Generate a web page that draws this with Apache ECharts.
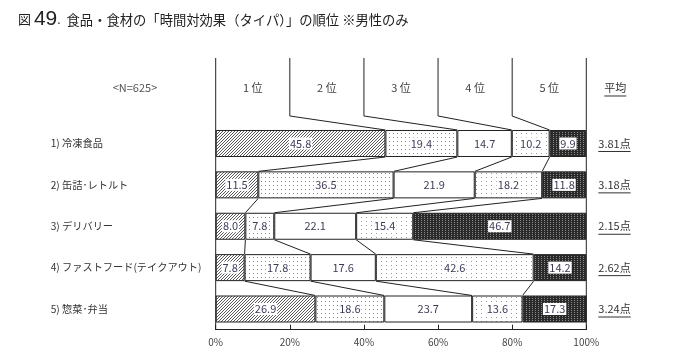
<!DOCTYPE html>
<html><head><meta charset="utf-8">
<script src="https://cdn.jsdelivr.net/npm/echarts@6/dist/echarts.min.js"></script>
<style>html,body{margin:0;padding:0;background:#fff}#c{width:700px;height:356px}</style>
</head><body><div id="c"></div>
<script>
const categories = ['1) 冷凍食品','2) 缶詰･レトルト','3) デリバリー','4) ファストフード(テイクアウト)','5) 惣菜･弁当'];
const rankNames = ['1 位','2 位','3 位','4 位','5 位'];
const rank1 = [45.8, 11.5, 8.0, 7.8, 26.9];
const rank2 = [19.4, 36.5, 7.8, 17.8, 18.6];
const rank3 = [14.7, 21.9, 22.1, 17.6, 23.7];
const rank4 = [10.2, 18.2, 15.4, 42.6, 13.6];
const rank5 = [9.9, 11.8, 46.7, 14.2, 17.3];
const averages = ['3.81点','3.18点','2.15点','2.62点','3.24点'];
const avgHeader = '平均';
const sampleLabel = '<N=625>';
const xTicks = [0, 20, 40, 60, 80, 100];

const ranks = [rank1, rank2, rank3, rank4, rank5];
const FONT = '"Noto Sans CJK JP", "Noto Sans", sans-serif';

function pattern(kind) {
  const c = document.createElement('canvas');
  const ctx = c.getContext('2d');
  if (kind === 'hatch') {
    c.width = 3; c.height = 3;
    ctx.fillStyle = '#fff'; ctx.fillRect(0,0,3,3);
    ctx.fillStyle = '#5a5a5a';
    ctx.fillRect(0,2,1,1); ctx.fillRect(1,1,1,1); ctx.fillRect(2,0,1,1);
  } else if (kind === 'dots') {
    c.width = 4; c.height = 4;
    ctx.fillStyle = '#fff'; ctx.fillRect(0,0,4,4);
    ctx.fillStyle = '#888'; ctx.fillRect(1,1,1,1);
  } else if (kind === 'dots2') {
    c.width = 5; c.height = 4;
    ctx.fillStyle = '#fff'; ctx.fillRect(0,0,5,4);
    ctx.fillStyle = '#999'; ctx.fillRect(1,1,1,1);
  } else if (kind === 'dark') {
    c.width = 3; c.height = 2;
    ctx.fillStyle = '#2a2a2a'; ctx.fillRect(0,0,3,2);
    ctx.fillStyle = '#8a8a8a'; ctx.fillRect(1,0,1,1);
  } else {
    c.width = 2; c.height = 2;
    ctx.fillStyle = '#fff'; ctx.fillRect(0,0,2,2);
  }
  return { image: c, repeat: 'repeat' };
}
const fills = [pattern('hatch'), pattern('dots'), pattern('white'), pattern('dots2'), pattern('dark')];

const mctx = document.createElement('canvas').getContext('2d');
function textW(t, size) { mctx.font = size + 'px ' + FONT; return mctx.measureText(t).width; }

const BAR = 27;
const barSeries = ranks.map((arr, k) => ({
  name: rankNames[k],
  type: 'bar',
  stack: 'all',
  barWidth: BAR,
  data: arr,
  itemStyle: { color: fills[k], borderColor: '#222', borderWidth: 1 },
  label: {
    show: true, position: 'inside',
    formatter: p => p.value.toFixed(1),
    fontSize: 11, fontFamily: FONT, color: '#3c3c58',
    backgroundColor: '#fff', padding: [1, 1, 0, 1]
  },
  emphasis: { disabled: true }
}));

function cum(row, k) { let s = 0; for (let j = 0; j <= k; j++) s += ranks[j][row]; return s; }

const overlay = {
  type: 'custom',
  z: 10,
  silent: true,
  clip: false,
  data: [0],
  renderItem: function (params, api) {
    const els = [];
    const half = BAR / 2;
    const band = api.size([0, 1])[1];
    const n = categories.length;
    const yTop0 = api.coord([0, 0])[1] - half;
    const headTop = yTop0 - 72;
    const headBreak = yTop0 - 14;
    const yBottom = api.coord([0, n - 1])[1] + band / 2;
    const x0 = api.coord([0, 0])[0];
    const x100 = api.coord([100, 0])[0];
    const ls = { stroke: '#222', lineWidth: 1, fill: null };
    els.push({ type: 'line', shape: { x1: x0, y1: headTop, x2: x0, y2: yBottom }, style: ls });
    els.push({ type: 'line', shape: { x1: x100, y1: headTop, x2: x100, y2: yBottom }, style: ls });
    for (let k = 1; k < 5; k++) {
      const xs = api.coord([xTicks[k], 0])[0];
      const xc = api.coord([cum(0, k - 1), 0])[0];
      els.push({ type: 'polyline', shape: { points: [[xs, headTop], [xs, headBreak], [xc, yTop0]] }, style: ls });
    }
    for (let k = 0; k < 5; k++) {
      const xm = api.coord([(xTicks[k] + xTicks[k + 1]) / 2, 0])[0];
      els.push({ type: 'text', x: xm, y: headTop + 30, style: { text: rankNames[k], fill: '#444', font: '11px ' + FONT, align: 'center', verticalAlign: 'middle' } });
    }
    els.push({ type: 'text', x: 135, y: headTop + 30, style: { text: sampleLabel, fill: '#555', font: '11px ' + FONT, align: 'center', verticalAlign: 'middle' } });
    const ax = x100 + 18;
    const hw = textW(avgHeader, 11);
    els.push({ type: 'text', x: ax, y: headTop + 30, style: { text: avgHeader, fill: '#333', font: '11px ' + FONT, align: 'left', verticalAlign: 'middle' } });
    els.push({ type: 'line', shape: { x1: ax, y1: headTop + 38, x2: ax + hw, y2: headTop + 38 }, style: { stroke: '#333', lineWidth: 1 } });
    for (let i = 0; i < n - 1; i++) {
      const yb = api.coord([0, i])[1] + half;
      const yt = api.coord([0, i + 1])[1] - half;
      for (let k = 0; k < 4; k++) {
        const xa = api.coord([cum(i, k), i])[0];
        const xb = api.coord([cum(i + 1, k), i + 1])[0];
        els.push({ type: 'line', shape: { x1: xa, y1: yb, x2: xb, y2: yt }, style: ls });
      }
    }
    for (let i = 0; i < n; i++) {
      const y = api.coord([0, i])[1];
      const tx = x100 + 12;
      const w = textW(averages[i], 11);
      els.push({ type: 'text', x: tx, y: y, style: { text: averages[i], fill: '#333', font: '11px ' + FONT, align: 'left', verticalAlign: 'middle' } });
      els.push({ type: 'line', shape: { x1: tx, y1: y + 8, x2: tx + w, y2: y + 8 }, style: { stroke: '#333', lineWidth: 1 } });
    }
    return { type: 'group', children: els };
  }
};

const chart = echarts.init(document.getElementById('c'), null, { renderer: 'canvas' });
chart.setOption({
  animation: false,
  backgroundColor: '#fff',
  title: {
    left: 13, top: 4,
    text: '{a|図 }{b|49}{c|.}{d|  食品・食材の「時間対効果（タイパ）」の順位 ※男性のみ}',
    textStyle: {
      fontWeight: 'normal',
      rich: {
        a: { fontSize: 13, fontFamily: FONT, color: '#222', fontWeight: 'normal' },
        b: { fontSize: 21, fontFamily: '"Liberation Sans", Arial, sans-serif', color: '#222', fontWeight: 'normal' },
        c: { fontSize: 12, fontFamily: FONT, color: '#222', fontWeight: 'normal' },
        d: { fontSize: 13.3, fontFamily: FONT, color: '#222', fontWeight: 'normal' }
      }
    }
  },
  grid: { left: 215.7, right: 113.7, top: 122.8, bottom: 26.3 },
  xAxis: {
    type: 'value', min: 0, max: 100, interval: 20,
    axisLine: { show: true, lineStyle: { color: '#222', width: 1 } },
    axisTick: { show: true, inside: true, length: 5, lineStyle: { color: '#222' } },
    axisLabel: { formatter: '{value}%', fontSize: 10, fontFamily: FONT, color: '#444', margin: 8 },
    splitLine: { show: false }
  },
  yAxis: {
    type: 'category', inverse: true, data: categories,
    axisLine: { show: false }, axisTick: { show: false },
    axisLabel: { align: 'left', margin: 165, fontSize: 10.2, fontFamily: FONT, color: '#333', overflow: 'none', width: 200 }
  },
  series: [...barSeries, overlay]
});
</script></body></html>
